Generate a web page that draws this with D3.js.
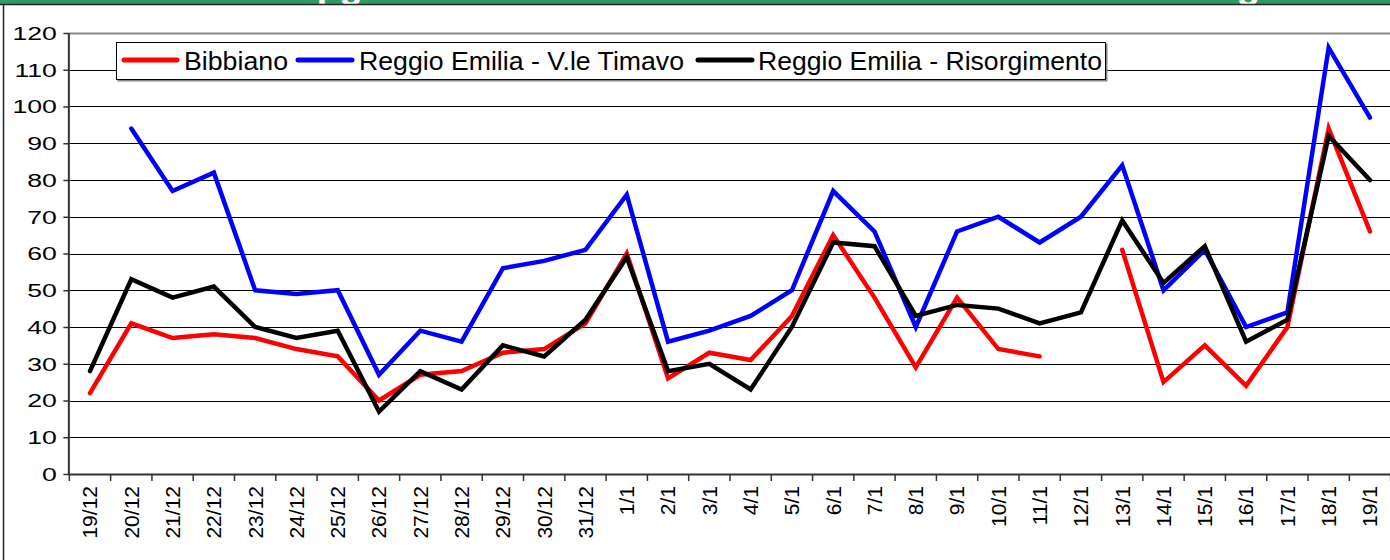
<!DOCTYPE html>
<html>
<head>
<meta charset="utf-8">
<script src="https://cdn.jsdelivr.net/npm/d3@7"></script>
<style>
  html, body { margin: 0; padding: 0; background: #fff; }
  svg { display: block; font-family: Arial, "Liberation Sans", sans-serif; }
</style>
</head>
<body>
<svg id="chart" width="1390" height="560"></svg>
<script>
const categories = ["19/12","20/12","21/12","22/12","23/12","24/12","25/12","26/12","27/12","28/12","29/12","30/12","31/12",
  "1/1","2/1","3/1","4/1","5/1","6/1","7/1","8/1","9/1","10/1","11/1","12/1","13/1","14/1","15/1","16/1","17/1","18/1","19/1"];
const bibbiano =     [22,41,37,38,37,34,32,20,27,28,33,34,41,60,26,33,31,43,65,48,29,48,34,32,null,61,25,35,24,40,94,66];
const timavo =       [null,94,77,82,50,49,50,27,39,36,56,58,61,76,36,39,43,50,77,66,40,66,70,63,70,84,50,61,40,44,116,97];
const risorgimento = [28,53,48,51,40,37,39,17,28,23,35,32,42,59,28,30,23,40,63,62,43,46,45,41,44,69,52,62,36,42,92,80];
const seriesNames =  ["Bibbiano","Reggio Emilia - V.le Timavo","Reggio Emilia - Risorgimento"];
const seriesColors = ["#ff0000","#0000ff","#000000"];
const yTicks = [0,10,20,30,40,50,60,70,80,90,100,110,120];
const titleText = "Valori di PM10 in µg/m³ rilevati nelle stazioni della rete Emilia-Romagna";

const svg = d3.select("#chart");
const W = 1390, H = 560;
const plotL = 69.35, plotR = 1390.6, plotT = 33, plotB = 474;

const x = d3.scaleBand().domain(categories).range([plotL, plotR]).padding(0);
const y = d3.scaleLinear().domain([0, 120]).range([plotB, plotT]);
const cx = c => x(c) + x.bandwidth() / 2;

// header band with (mostly hidden) title
svg.append("rect").attr("x", 0).attr("y", 0).attr("width", W).attr("height", 4).attr("fill", "#2f9a63");
const title = svg.append("text").attr("x", 0).attr("y", -2)
  .attr("fill", "#fff").attr("font-weight", "bold").attr("font-size", 24).text(titleText);
{
  const node = title.node();
  const iMu = titleText.indexOf("µ");
  const iG = titleText.lastIndexOf("g");
  const pMu = node.getStartPositionOfChar(iMu).x;
  const pG = node.getStartPositionOfChar(iG).x;
  const s = (1237 - 317) / (pG - pMu);
  title.attr("font-size", 24 * s).attr("x", 317 - s * pMu);
}
svg.append("line").attr("x1", 0).attr("x2", W).attr("y1", 4.5).attr("y2", 4.5).attr("stroke", "#222").attr("stroke-width", 1.5);
svg.append("line").attr("x1", 3.5).attr("x2", 3.5).attr("y1", 4).attr("y2", H).attr("stroke", "#222").attr("stroke-width", 1.5);

// gridlines
svg.append("g").selectAll("line").data(yTicks.filter(v => v > 0 && v < 120)).join("line")
  .attr("x1", plotL).attr("x2", W)
  .attr("y1", d => Math.round(y(d)) + 0.5).attr("y2", d => Math.round(y(d)) + 0.5)
  .attr("stroke", "#000").attr("stroke-width", 1);
svg.append("line").attr("x1", plotL).attr("x2", W).attr("y1", y(120) + 0.5).attr("y2", y(120) + 0.5)
  .attr("stroke", "#8a8a8a").attr("stroke-width", 2);

// Y axis
const yAxis = svg.append("g").attr("transform", `translate(${plotL},0)`)
  .call(d3.axisLeft(y).tickValues(yTicks).tickSize(6).tickSizeOuter(0));
yAxis.select(".domain").remove();
yAxis.selectAll(".tick line").attr("stroke", "#333").attr("stroke-width", 1.5);
yAxis.selectAll(".tick text")
  .attr("x", 0).attr("dy", "0.36em")
  .attr("transform", "translate(-12.5,0) scale(1.48,1)")
  .attr("font-size", 18).attr("font-family", "Arial, 'Liberation Sans', sans-serif").attr("fill", "#000");

// X axis (labels)
const xAxis = svg.append("g").attr("transform", `translate(0,${plotB})`)
  .call(d3.axisBottom(x).tickSize(0).tickSizeOuter(0));
xAxis.select(".domain").remove();
xAxis.selectAll(".tick text")
  .attr("x", 0).attr("y", 0).attr("dy", "0.35em")
  .attr("text-anchor", "end")
  .attr("transform", "translate(0,12) rotate(-90)")
  .attr("font-size", 21).attr("font-family", "Arial, 'Liberation Sans', sans-serif").attr("fill", "#000");

// X tick marks at band boundaries
const bounds = categories.map(c => x(c)).concat([plotR]);
svg.append("g").selectAll("line").data(bounds).join("line")
  .attr("x1", d => d).attr("x2", d => d).attr("y1", plotB).attr("y2", plotB + 7)
  .attr("stroke", "#333").attr("stroke-width", 1.5);

// axis lines
svg.append("line").attr("x1", plotL - 0.5).attr("x2", plotL - 0.5).attr("y1", plotT).attr("y2", plotB + 1)
  .attr("stroke", "#333").attr("stroke-width", 2);
svg.append("line").attr("x1", plotL - 1).attr("x2", W).attr("y1", plotB + 0.5).attr("y2", plotB + 0.5)
  .attr("stroke", "#333").attr("stroke-width", 2);

// series
const allSeries = [bibbiano, timavo, risorgimento];
const line = d3.line().defined(d => d.v != null).x(d => cx(d.c)).y(d => y(d.v));
allSeries.forEach((vals, i) => {
  const data = categories.map((c, j) => ({ c, v: vals[j] }));
  svg.append("path").datum(data).attr("d", line)
    .attr("fill", "none").attr("stroke", seriesColors[i]).attr("stroke-width", 4.5)
    .attr("stroke-linejoin", "miter").attr("stroke-linecap", "round");
});

// legend
const lg = svg.append("g");
lg.append("rect").attr("x", 117.5).attr("y", 43.5).attr("width", 990).attr("height", 38).attr("fill", "#888");
lg.append("rect").attr("x", 116.5).attr("y", 42.5).attr("width", 989).attr("height", 37)
  .attr("fill", "#fff").attr("stroke", "#000").attr("stroke-width", 1);
const legendItems = [
  { x1: 124, x2: 177, tx: 184, tl: 104 },
  { x1: 298, x2: 352, tx: 359, tl: 325 },
  { x1: 698, x2: 752, tx: 758, tl: 344 }
];
legendItems.forEach((it, i) => {
  lg.append("line").attr("x1", it.x1).attr("x2", it.x2).attr("y1", 60).attr("y2", 60)
    .attr("stroke", seriesColors[i]).attr("stroke-width", 5).attr("stroke-linecap", "round");
  lg.append("text").attr("x", it.tx).attr("y", 70).attr("font-size", 25)
    .attr("textLength", it.tl).attr("lengthAdjust", "spacingAndGlyphs")
    .attr("fill", "#000").text(seriesNames[i]);
});
</script>
</body>
</html>
